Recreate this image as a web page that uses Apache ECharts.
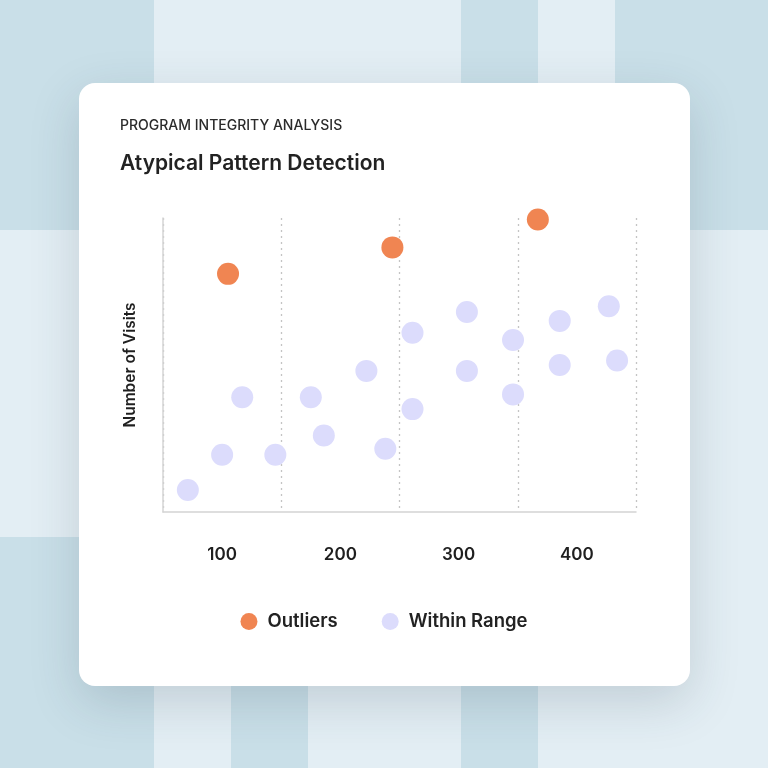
<!DOCTYPE html>
<html><head><meta charset="utf-8">
<script src="https://cdn.jsdelivr.net/npm/echarts@6/dist/echarts.min.js"></script>
<style>html,body{margin:0;padding:0;background:#e3eef4;}#c{width:768px;height:768px;}</style>
</head><body><div id="c"></div>
<script>
const kicker = 'PROGRAM INTEGRITY ANALYSIS';
const title = 'Atypical Pattern Detection';
const yAxisName = 'Number of Visits';
const seriesNames = ['Outliers', 'Within Range'];
const xTickLabels = [100, 200, 300, 400];
const outliersX = [105, 244, 367];
const outliersY = [81, 90, 99.5];
const withinX = [71, 100, 117, 145, 175, 186, 222, 238, 261, 261, 307, 307, 346, 346, 385.5, 385.5, 427, 434];
const withinY = [7.5, 19.5, 39, 19.5, 39, 26, 48, 21.5, 61, 35, 68, 48, 58.5, 40, 65, 50, 70, 51.5];

const DARK = '#c9dfe8', LIGHT = '#e3eef4';
const tiles = [
  [0, 0, 154, 230, DARK], [154, 0, 307, 230, LIGHT], [461, 0, 77, 230, DARK], [538, 0, 77, 230, LIGHT], [615, 0, 153, 230, DARK],
  [0, 230, 768, 307, LIGHT],
  [0, 537, 154, 231, DARK], [154, 537, 77, 231, LIGHT], [231, 537, 77, 231, DARK], [308, 537, 153, 231, LIGHT],
  [461, 537, 77, 231, DARK], [538, 537, 230, 231, LIGHT]
];
const bgGraphics = tiles.map(t => ({
  type: 'rect', z: -20, silent: true,
  shape: { x: t[0], y: t[1], width: t[2], height: t[3] },
  style: { fill: t[4] }
}));

const FONT = 'Inter, "Noto Sans", sans-serif';
const chart = echarts.init(document.getElementById('c'), null, { renderer: 'canvas' });
chart.setOption({
  animation: false,
  textStyle: { fontFamily: FONT },
  graphic: bgGraphics.concat([
    {
      type: 'rect', z: -10, silent: true,
      shape: { x: 79, y: 83, width: 611, height: 603, r: 16 },
      style: { fill: '#ffffff', shadowBlur: 50, shadowColor: 'rgba(40,60,80,0.18)', shadowOffsetY: 16 }
    },
    {
      type: 'text', z: 5, left: 120, top: 119,
      style: { text: kicker, font: '500 14px ' + FONT, fill: '#2b2b2b' }
    },
    {
      type: 'text', z: 5, left: 120, top: 153,
      style: { text: title, font: '600 21px ' + FONT, fill: '#222222' }
    }
  ]),
  grid: { left: 163, right: 132, top: 218, bottom: 256, containLabel: false },
  legend: {
    data: seriesNames,
    left: 'center', top: 607,
    icon: 'circle', itemWidth: 17, itemHeight: 17, itemGap: 44,
    textStyle: { fontFamily: FONT, fontSize: 18.5, fontWeight: 600, color: '#222222', padding: [0, 0, 0, 5] }
  },
  xAxis: {
    type: 'value', min: 50, max: 450, interval: 100,
    axisLine: { show: true, lineStyle: { color: '#d4d4d4', width: 1.5 } },
    axisTick: { show: false },
    axisLabel: { customValues: xTickLabels, margin: 34, fontFamily: FONT, fontSize: 17, fontWeight: 600, color: '#1f1f1f' },
    splitLine: { show: true, lineStyle: { color: '#c4c4c4', width: 1.3, type: [2, 4] } }
  },
  yAxis: {
    type: 'value', min: 0, max: 100,
    name: yAxisName, nameLocation: 'middle', nameGap: 25,
    nameTextStyle: { fontFamily: FONT, fontSize: 15.5, fontWeight: 600, color: '#1f1f1f' },
    axisLine: { show: true, lineStyle: { color: '#d4d4d4', width: 1.5 } },
    axisTick: { show: false },
    axisLabel: { show: false },
    splitLine: { show: false }
  },
  series: [
    {
      name: seriesNames[0], type: 'scatter', symbolSize: 22, clip: false,
      itemStyle: { color: '#f08552', opacity: 1 },
      data: outliersX.map((x, i) => [x, outliersY[i]])
    },
    {
      name: seriesNames[1], type: 'scatter', symbolSize: 22, clip: false,
      itemStyle: { color: '#dcdcfc', opacity: 1 },
      data: withinX.map((x, i) => [x, withinY[i]])
    }
  ]
});
</script>
</body></html>
